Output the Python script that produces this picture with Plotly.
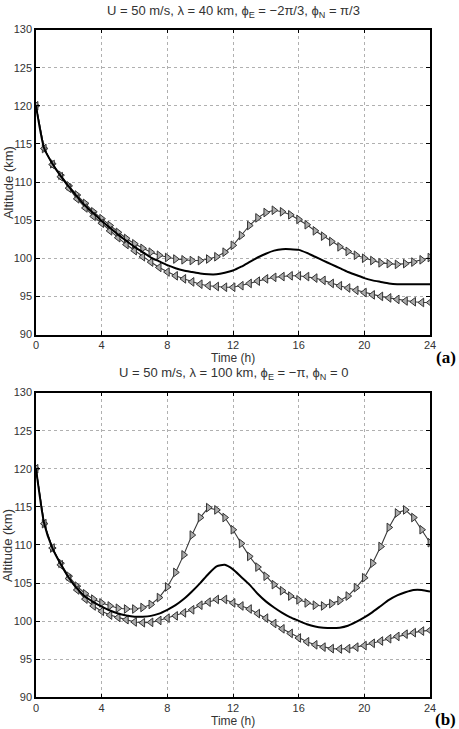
import plotly.graph_objects as go

time_h = [0, 0.5, 1, 1.5, 2, 2.5, 3, 3.5, 4, 4.5, 5, 5.5, 6, 6.5, 7, 7.5, 8, 8.5, 9, 9.5,
          10, 10.5, 11, 11.5, 12, 12.5, 13, 13.5, 14, 14.5, 15, 15.5, 16, 16.5, 17, 17.5,
          18, 18.5, 19, 19.5, 20, 20.5, 21, 21.5, 22, 22.5, 23, 23.5, 24]

# Panel (a)
a_upper = [120.0, 114.4, 112.4, 110.9, 109.5, 108.3, 107.2, 106.1, 105.2, 104.3, 103.4, 102.6,
           101.9, 101.3, 100.8, 100.4, 100.1, 99.9, 99.8, 99.7, 99.7, 99.9, 100.2, 100.8, 101.7,
           103.0, 104.3, 105.3, 106.0, 106.3, 106.1, 105.7, 105.1, 104.4, 103.6, 102.9, 102.2,
           101.5, 100.9, 100.4, 100.0, 99.7, 99.4, 99.3, 99.2, 99.3, 99.5, 99.8, 100.1]
a_center = [120.0, 114.4, 112.4, 110.8, 109.4, 108.1, 106.9, 105.9, 104.9, 104.0, 103.1, 102.3,
            101.5, 100.8, 100.1, 99.6, 99.1, 98.7, 98.4, 98.2, 98.0, 97.9, 97.9, 98.1, 98.4,
            98.9, 99.5, 100.1, 100.6, 101.0, 101.2, 101.2, 101.1, 100.7, 100.2, 99.7, 99.2,
            98.7, 98.2, 97.8, 97.4, 97.1, 96.9, 96.7, 96.6, 96.6, 96.6, 96.6, 96.6]
a_lower = [120.0, 114.4, 112.3, 110.7, 109.2, 107.8, 106.6, 105.5, 104.6, 103.6, 102.7, 101.8,
           101.0, 100.2, 99.5, 98.8, 98.2, 97.7, 97.3, 96.9, 96.6, 96.4, 96.3, 96.2, 96.2,
           96.4, 96.7, 97.0, 97.3, 97.5, 97.6, 97.7, 97.7, 97.6, 97.4, 97.1, 96.7, 96.4, 96.1,
           95.8, 95.5, 95.2, 95.0, 94.8, 94.6, 94.4, 94.3, 94.2, 94.2]

# Panel (b)
b_upper = [120.0, 112.8, 109.6, 107.6, 105.9, 104.6, 103.6, 102.9, 102.4, 102.0, 101.7, 101.6,
           101.6, 101.8, 102.2, 103.1, 104.5, 106.4, 108.7, 111.3, 113.6, 114.9, 114.6, 113.6,
           112.0, 110.2, 108.5, 107.1, 105.9, 104.8, 104.0, 103.3, 102.8, 102.4, 102.1, 102.0,
           102.3, 102.7, 103.3, 104.4, 105.7, 107.6, 109.8, 112.3, 114.2, 114.6, 113.6, 112.0, 110.3]
b_center = [120.0, 112.8, 109.6, 107.5, 105.7, 104.3, 103.2, 102.5, 101.9, 101.4, 101.0, 100.75,
            100.6, 100.6, 100.7, 101.0, 101.5, 102.1, 102.9, 103.9, 105.0, 106.2, 107.2, 107.4,
            106.8, 105.8, 104.8, 103.6, 102.6, 101.8, 101.1, 100.5, 100.05, 99.6, 99.3, 99.15,
            99.1, 99.15, 99.4, 99.9, 100.5, 101.2, 102.0, 102.8, 103.4, 103.8, 104.1, 104.1, 103.9]
b_lower = [120.0, 112.8, 109.6, 107.4, 105.6, 104.1, 102.9, 102.0, 101.3, 100.8, 100.5, 100.2,
           99.9, 99.8, 99.85, 100.1, 100.4, 100.7, 101.1, 101.5, 102.1, 102.5, 102.85, 102.85,
           102.4, 102.0, 101.6, 101.0, 100.4, 99.7, 99.0, 98.4, 97.8, 97.3, 96.9, 96.6, 96.4,
           96.35, 96.4, 96.6, 96.8, 97.1, 97.4, 97.7, 98.0, 98.3, 98.5, 98.7, 98.8]

x_ticks = [0, 4, 8, 12, 16, 20, 24]
y_ticks = [90, 95, 100, 105, 110, 115, 120, 125, 130]

titles = ["U = 50 m/s, λ = 40 km, ϕ<sub>E</sub> = −2π/3, ϕ<sub>N</sub> = π/3",
          "U = 50 m/s, λ = 100 km, ϕ<sub>E</sub> = −π, ϕ<sub>N</sub> = 0"]
panel_labels = ["(a)", "(b)"]

FONT = "Liberation Sans, Arial, sans-serif"
H = 729.0

fig = go.Figure()

panels = [(a_upper, a_center, a_lower), (b_upper, b_center, b_lower)]
pix = [(24, 334), (393, 703)]

for i, (up, ce, lo) in enumerate(panels):
    xa = "x" if i == 0 else "x2"
    ya = "y" if i == 0 else "y2"
    marker_line = dict(color="#333333", width=1)
    fig.add_trace(go.Scatter(x=time_h, y=up, mode="lines+markers", xaxis=xa, yaxis=ya,
                             line=dict(color="#3a3a3a", width=1.1),
                             marker=dict(symbol="triangle-right", size=7.5, color="#ababab",
                                         line=marker_line),
                             showlegend=False))
    fig.add_trace(go.Scatter(x=time_h, y=lo, mode="lines+markers", xaxis=xa, yaxis=ya,
                             line=dict(color="#3a3a3a", width=1.1),
                             marker=dict(symbol="triangle-left", size=7.5, color="#ababab",
                                         line=marker_line),
                             showlegend=False))
    fig.add_trace(go.Scatter(x=time_h, y=ce, mode="lines", xaxis=xa, yaxis=ya,
                             line=dict(color="black", width=2, shape="spline", smoothing=0.6),
                             showlegend=False))

axis_common = dict(showline=True, linecolor="black", linewidth=1.5, mirror="allticks",
                   ticks="inside", ticklen=4, tickcolor="black",
                   showgrid=True, gridcolor="#b0b0b0", griddash="dot", gridwidth=1,
                   zeroline=False, tickfont=dict(family=FONT, size=11, color="#333333"))

dom = [(1 - pix[0][1] / H, 1 - pix[0][0] / H), (1 - pix[1][1] / H, 1 - pix[1][0] / H)]

fig.update_layout(
    width=459, height=729,
    margin=dict(l=36, r=29, t=0, b=0),
    paper_bgcolor="white", plot_bgcolor="white",
    xaxis=dict(range=[0, 24], tickvals=x_ticks, anchor="y", domain=[0, 1],
               ticklabelstandoff=0, **axis_common),
    yaxis=dict(range=[90, 130], tickvals=y_ticks, anchor="x", domain=list(dom[0]), **axis_common),
    xaxis2=dict(range=[0, 24], tickvals=x_ticks, anchor="y2", domain=[0, 1],
                ticklabelstandoff=0, **axis_common),
    yaxis2=dict(range=[90, 130], tickvals=y_ticks, anchor="x2", domain=list(dom[1]), **axis_common),
)

annotations = []
title_y = [6, 374]
xlab_y = [358, 726.5]
for i in range(2):
    annotations.append(dict(text=titles[i], xref="paper", yref="paper", x=0.5,
                            y=1 - title_y[i] / H, xanchor="center", yanchor="middle",
                            showarrow=False, font=dict(family=FONT, size=13, color="#333333")))
    annotations.append(dict(text="Time (h)", xref="paper", yref="paper", x=0.5,
                            y=1 - xlab_y[i] / H, xanchor="center", yanchor="middle",
                            showarrow=False, font=dict(family=FONT, size=12, color="#333333")))
    mid = (pix[i][0] + pix[i][1]) / 2
    annotations.append(dict(text="Altitude (km)", xref="paper", yref="paper",
                            x=-28 / 394.0, y=1 - mid / H, xanchor="center", yanchor="middle",
                            textangle=-90, showarrow=False,
                            font=dict(family=FONT, size=13, color="#333333")))
    annotations.append(dict(text="<b>" + panel_labels[i] + "</b>", xref="paper", yref="paper",
                            x=(446 - 36) / 394.0, y=1 - (xlab_y[i] - 1) / H,
                            xanchor="center", yanchor="middle", showarrow=False,
                            font=dict(family="Liberation Serif, Times New Roman, serif",
                                      size=17, color="black")))
fig.update_layout(annotations=annotations)

fig.write_html("out.html")
